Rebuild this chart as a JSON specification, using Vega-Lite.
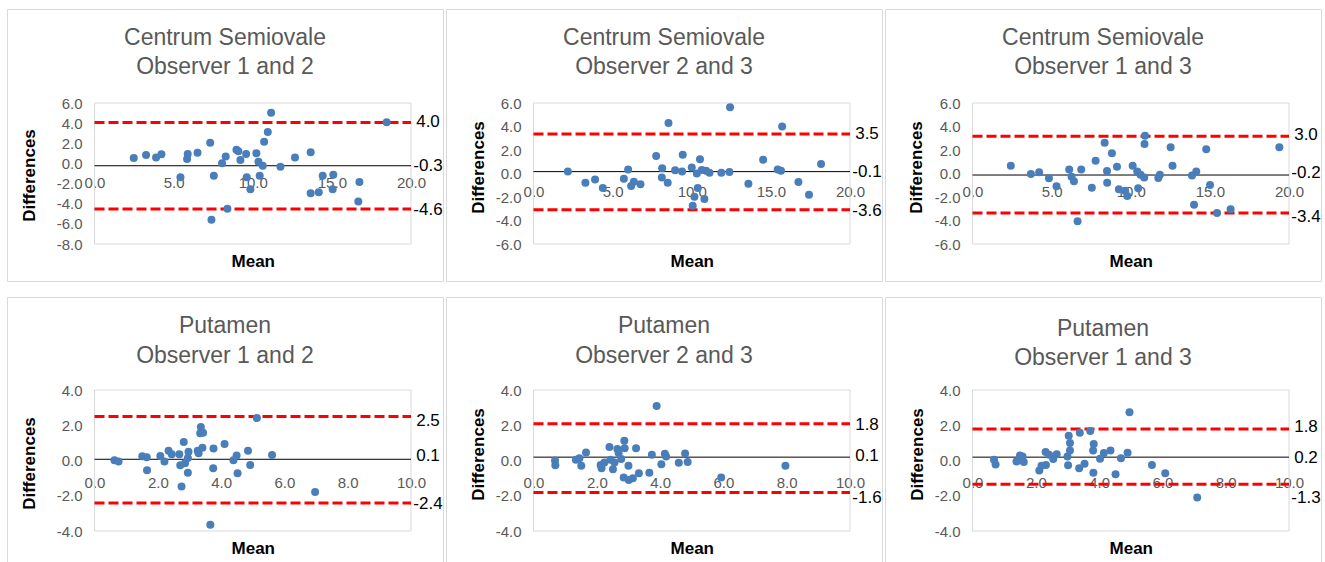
{
  "$schema": "https://vega.github.io/schema/vega-lite/v6.json",
  "background": "white",
  "padding": {"left": 6, "top": 8, "right": 0, "bottom": 0},
  "config": {
    "font": "Liberation Sans",
    "locale": {"number": {"decimal": ".", "thousands": ",", "grouping": [3], "currency": ["$", ""], "minus": "-"}},
    "view": {"stroke": "#d9d9d9", "strokeWidth": 1},
    "title": {"fontSize": 23, "font": "Liberation Sans", "fontWeight": "normal", "color": "#595959", "anchor": "middle", "frame": "group", "lineHeight": 29, "baseline": "middle"},
    "axis": {"domain": false, "ticks": false, "tickSize": 0, "grid": false, "labelColor": "#595959", "labelFontSize": 15, "labelFont": "Liberation Sans", "titleFont": "Liberation Sans", "titleFontSize": 17, "titleFontWeight": "bold", "titleColor": "black", "labelFlush": false, "labelOverlap": false, "labelBound": false, "format": ".1f", "titleBaseline": "middle"},
    "axisY": {"labelOverlap": false},
    "axisX": {"labelOverlap": false}
  },
  "datasets": {
    "pts": [
      {"p":1,"m":2.48,"d":0.54},{"p":1,"m":3.26,"d":0.84},{"p":1,"m":3.89,"d":0.60},{"p":1,"m":4.23,"d":0.90},{"p":1,"m":5.43,"d":-1.38},{"p":1,"m":5.89,"d":0.94},{"p":1,"m":5.85,"d":0.44},{"p":1,"m":6.51,"d":1.07},{"p":1,"m":7.31,"d":2.06},{"p":1,"m":7.54,"d":-1.22},{"p":1,"m":7.39,"d":-5.59},{"p":1,"m":8.06,"d":0.01},{"p":1,"m":8.29,"d":0.70},{"p":1,"m":8.40,"d":-4.49},{"p":1,"m":8.97,"d":1.37},{"p":1,"m":9.09,"d":1.20},{"p":1,"m":9.22,"d":0.34},{"p":1,"m":9.58,"d":0.94},{"p":1,"m":9.62,"d":-1.38},{"p":1,"m":9.85,"d":-2.57},{"p":1,"m":10.23,"d":1.00},{"p":1,"m":10.36,"d":0.17},{"p":1,"m":10.63,"d":-0.22},{"p":1,"m":10.44,"d":-1.22},{"p":1,"m":10.72,"d":2.16},{"p":1,"m":10.95,"d":3.12},{"p":1,"m":11.16,"d":5.04},{"p":1,"m":11.75,"d":-0.32},{"p":1,"m":12.67,"d":0.60},{"p":1,"m":13.66,"d":1.10},{"p":1,"m":13.66,"d":-2.97},{"p":1,"m":14.17,"d":-2.87},{"p":1,"m":14.42,"d":-1.22},{"p":1,"m":15.09,"d":-1.12},{"p":1,"m":15.05,"d":-2.57},{"p":1,"m":16.74,"d":-1.85},{"p":1,"m":16.67,"d":-3.77},{"p":1,"m":18.46,"d":4.08},
      {"p":2,"m":2.17,"d":0.16},{"p":2,"m":3.28,"d":-0.78},{"p":2,"m":3.89,"d":-0.52},{"p":2,"m":4.38,"d":-1.23},{"p":2,"m":5.71,"d":-0.44},{"p":2,"m":5.98,"d":0.33},{"p":2,"m":6.17,"d":-1.06},{"p":2,"m":6.34,"d":-0.70},{"p":2,"m":6.76,"d":-0.92},{"p":2,"m":7.75,"d":1.49},{"p":2,"m":8.13,"d":0.44},{"p":2,"m":8.11,"d":-0.33},{"p":2,"m":8.53,"d":4.30},{"p":2,"m":8.48,"d":-0.78},{"p":2,"m":8.95,"d":0.27},{"p":2,"m":9.39,"d":0.16},{"p":2,"m":9.43,"d":1.60},{"p":2,"m":10.00,"d":0.52},{"p":2,"m":10.06,"d":-2.74},{"p":2,"m":10.17,"d":-1.97},{"p":2,"m":10.32,"d":0.01},{"p":2,"m":10.38,"d":-1.23},{"p":2,"m":10.52,"d":1.21},{"p":2,"m":10.63,"d":0.30},{"p":2,"m":10.80,"d":-2.17},{"p":2,"m":10.90,"d":0.24},{"p":2,"m":11.12,"d":0.07},{"p":2,"m":11.87,"d":0.07},{"p":2,"m":12.38,"d":0.13},{"p":2,"m":12.42,"d":5.63},{"p":2,"m":13.58,"d":-0.87},{"p":2,"m":14.51,"d":1.18},{"p":2,"m":15.43,"d":0.33},{"p":2,"m":15.64,"d":0.24},{"p":2,"m":15.71,"d":4.01},{"p":2,"m":16.74,"d":-0.72},{"p":2,"m":17.41,"d":-1.80},{"p":2,"m":18.17,"d":0.81},
      {"p":3,"m":2.42,"d":0.67},{"p":3,"m":3.69,"d":-0.04},{"p":3,"m":4.21,"d":0.10},{"p":3,"m":4.83,"d":-0.41},{"p":3,"m":5.31,"d":-1.09},{"p":3,"m":6.11,"d":0.35},{"p":3,"m":6.26,"d":-0.27},{"p":3,"m":6.41,"d":-0.67},{"p":3,"m":6.87,"d":0.35},{"p":3,"m":6.64,"d":-4.07},{"p":3,"m":7.54,"d":-1.21},{"p":3,"m":7.78,"d":1.09},{"p":3,"m":8.35,"d":2.62},{"p":3,"m":8.50,"d":0.21},{"p":3,"m":8.51,"d":-0.78},{"p":3,"m":8.81,"d":1.72},{"p":3,"m":9.13,"d":0.58},{"p":3,"m":9.25,"d":-1.35},{"p":3,"m":9.65,"d":-1.46},{"p":3,"m":9.78,"d":-1.91},{"p":3,"m":10.12,"d":0.67},{"p":3,"m":10.41,"d":0.16},{"p":3,"m":10.47,"d":-1.26},{"p":3,"m":10.62,"d":-0.10},{"p":3,"m":10.85,"d":-0.35},{"p":3,"m":10.90,"d":3.22},{"p":3,"m":10.87,"d":2.51},{"p":3,"m":11.74,"d":-0.38},{"p":3,"m":11.84,"d":-0.10},{"p":3,"m":12.52,"d":2.23},{"p":3,"m":12.64,"d":0.67},{"p":3,"m":13.87,"d":-0.18},{"p":3,"m":14.14,"d":0.16},{"p":3,"m":14.00,"d":-2.65},{"p":3,"m":14.77,"d":2.06},{"p":3,"m":15.01,"d":-0.98},{"p":3,"m":15.45,"d":-3.36},{"p":3,"m":16.31,"d":-3.05},{"p":3,"m":19.39,"d":2.23},
      {"p":4,"m":0.63,"d":0.01},{"p":4,"m":0.76,"d":-0.05},{"p":4,"m":1.51,"d":0.24},{"p":4,"m":1.65,"d":0.18},{"p":4,"m":1.66,"d":-0.56},{"p":4,"m":2.08,"d":0.26},{"p":4,"m":2.21,"d":-0.05},{"p":4,"m":2.34,"d":0.56},{"p":4,"m":2.44,"d":0.35},{"p":4,"m":2.68,"d":0.35},{"p":4,"m":2.71,"d":-0.27},{"p":4,"m":2.75,"d":-1.47},{"p":4,"m":2.82,"d":1.05},{"p":4,"m":2.86,"d":-0.16},{"p":4,"m":2.95,"d":0.14},{"p":4,"m":2.97,"d":0.49},{"p":4,"m":2.95,"d":-0.69},{"p":4,"m":3.26,"d":0.56},{"p":4,"m":3.29,"d":0.41},{"p":4,"m":3.36,"d":1.90},{"p":4,"m":3.34,"d":1.54},{"p":4,"m":3.43,"d":1.58},{"p":4,"m":3.41,"d":0.73},{"p":4,"m":3.66,"d":-3.64},{"p":4,"m":3.76,"d":0.68},{"p":4,"m":3.75,"d":-0.44},{"p":4,"m":4.11,"d":0.94},{"p":4,"m":4.39,"d":0.01},{"p":4,"m":4.49,"d":0.29},{"p":4,"m":4.52,"d":-0.73},{"p":4,"m":4.85,"d":0.56},{"p":4,"m":4.92,"d":-0.26},{"p":4,"m":5.13,"d":2.41},{"p":4,"m":5.61,"d":0.31},{"p":4,"m":6.97,"d":-1.79},
      {"p":5,"m":0.68,"d":0.00},{"p":5,"m":0.69,"d":-0.27},{"p":5,"m":1.34,"d":0.04},{"p":5,"m":1.45,"d":0.13},{"p":5,"m":1.51,"d":-0.30},{"p":5,"m":1.66,"d":0.46},{"p":5,"m":2.12,"d":-0.25},{"p":5,"m":2.15,"d":-0.44},{"p":5,"m":2.24,"d":-0.11},{"p":5,"m":2.40,"d":0.76},{"p":5,"m":2.43,"d":0.04},{"p":5,"m":2.51,"d":-0.50},{"p":5,"m":2.56,"d":-0.11},{"p":5,"m":2.65,"d":0.65},{"p":5,"m":2.69,"d":0.42},{"p":5,"m":2.77,"d":0.08},{"p":5,"m":2.87,"d":1.12},{"p":5,"m":2.88,"d":0.70},{"p":5,"m":2.85,"d":-0.97},{"p":5,"m":3.00,"d":-0.30},{"p":5,"m":3.01,"d":-1.10},{"p":5,"m":3.14,"d":-1.01},{"p":5,"m":3.24,"d":0.70},{"p":5,"m":3.33,"d":-0.72},{"p":5,"m":3.66,"d":-0.70},{"p":5,"m":3.74,"d":0.32},{"p":5,"m":3.89,"d":3.09},{"p":5,"m":4.04,"d":-0.21},{"p":5,"m":4.15,"d":0.38},{"p":5,"m":4.19,"d":0.23},{"p":5,"m":4.59,"d":-0.13},{"p":5,"m":4.79,"d":0.40},{"p":5,"m":4.87,"d":-0.08},{"p":5,"m":5.93,"d":-0.97},{"p":5,"m":7.96,"d":-0.30},
      {"p":6,"m":0.68,"d":0.04},{"p":6,"m":0.73,"d":-0.23},{"p":6,"m":1.39,"d":-0.06},{"p":6,"m":1.50,"d":0.29},{"p":6,"m":1.58,"d":0.23},{"p":6,"m":1.62,"d":-0.08},{"p":6,"m":2.11,"d":-0.57},{"p":6,"m":2.18,"d":-0.30},{"p":6,"m":2.31,"d":0.48},{"p":6,"m":2.32,"d":-0.25},{"p":6,"m":2.42,"d":0.32},{"p":6,"m":2.55,"d":0.08},{"p":6,"m":2.66,"d":0.36},{"p":6,"m":3.00,"d":0.23},{"p":6,"m":3.02,"d":-0.27},{"p":6,"m":3.04,"d":1.41},{"p":6,"m":3.08,"d":0.99},{"p":6,"m":3.08,"d":0.57},{"p":6,"m":3.39,"d":1.57},{"p":6,"m":3.37,"d":-0.44},{"p":6,"m":3.54,"d":-0.19},{"p":6,"m":3.72,"d":1.68},{"p":6,"m":3.83,"d":0.93},{"p":6,"m":3.81,"d":0.57},{"p":6,"m":3.82,"d":-0.69},{"p":6,"m":4.03,"d":0.10},{"p":6,"m":4.15,"d":0.42},{"p":6,"m":4.36,"d":0.57},{"p":6,"m":4.52,"d":-0.78},{"p":6,"m":4.69,"d":0.13},{"p":6,"m":4.90,"d":0.44},{"p":6,"m":4.96,"d":2.74},{"p":6,"m":5.67,"d":-0.25},{"p":6,"m":6.09,"d":-0.72},{"p":6,"m":7.10,"d":-2.10}
    ],
    "ref": [
      {"p":1,"kind":"limit","v":4.07,"label":"4.0","ly":4.07},{"p":1,"kind":"mean","v":-0.23,"label":"-0.3","ly":-0.23},{"p":1,"kind":"limit","v":-4.53,"label":"-4.6","ly":-4.63},
      {"p":2,"kind":"limit","v":3.36,"label":"3.5","ly":3.36},{"p":2,"kind":"mean","v":0.16,"label":"-0.1","ly":0.16},{"p":2,"kind":"limit","v":-3.08,"label":"-3.6","ly":-3.22},
      {"p":3,"kind":"limit","v":3.16,"label":"3.0","ly":3.28},{"p":3,"kind":"mean","v":-0.13,"label":"-0.2","ly":0.01},{"p":3,"kind":"limit","v":-3.36,"label":"-3.4","ly":-3.67},
      {"p":4,"kind":"limit","v":2.49,"label":"2.5","ly":2.24},{"p":4,"kind":"mean","v":0.07,"label":"0.1","ly":0.26},{"p":4,"kind":"limit","v":-2.41,"label":"-2.4","ly":-2.49},
      {"p":5,"kind":"limit","v":2.08,"label":"1.8","ly":2.04},{"p":5,"kind":"mean","v":0.19,"label":"0.1","ly":0.23},{"p":5,"kind":"limit","v":-1.81,"label":"-1.6","ly":-2.1},
      {"p":6,"kind":"limit","v":1.79,"label":"1.8","ly":1.9},{"p":6,"kind":"mean","v":0.19,"label":"0.2","ly":0.13},{"p":6,"kind":"limit","v":-1.35,"label":"-1.3","ly":-2.15}
    ]
  },
  "columns": 3,
  "spacing": {"row": 16, "column": 3},
  "bounds": "flush",
  "concat": [
    {
      "width": 436, "height": 272,
      "title": {"text": ["Centrum Semiovale", "Observer 1 and 2"], "offset": -69.5},
      "layer": [
        {"data": {"values": [{}]}, "mark": {"type": "rect", "fill": null, "stroke": "#d9d9d9", "strokeWidth": 1},
         "encoding": {
           "x": {"datum": 0, "type": "quantitative", "scale": {"domain": [0, 20], "range": [87.5, 404], "nice": false, "zero": false},
                 "axis": {"title": "Mean", "values": [0, 5, 10, 15, 20], "labelOverlap": false, "offset": -117.6, "labelPadding": 19, "labelBaseline": "middle", "titleY": 97.6}},
           "x2": {"datum": 20},
           "y": {"datum": -8, "type": "quantitative", "scale": {"domain": [-8, 6], "range": [235, 94], "nice": false, "zero": false},
                 "axis": {"title": "Differences", "values": [-8, -6, -4, -2, 0, 2, 4, 6], "tickCount": 8, "labelOverlap": false, "labelSeparation": -40, "offset": -87.5, "labelPadding": 12.5, "titleX": -65.2, "titleY": 166, "titleAngle": 270}},
           "y2": {"datum": 6}}},
        {"data": {"name": "ref"}, "transform": [{"filter": "datum.p == 1 && datum.kind == 'limit'"}],
         "mark": {"type": "rule", "color": "#ff0000", "strokeWidth": 3, "strokeDash": [10, 4]},
         "encoding": {"y": {"field": "v", "type": "quantitative"}, "x": {"datum": 0}, "x2": {"datum": 20}}},
        {"data": {"name": "ref"}, "transform": [{"filter": "datum.p == 1 && datum.kind == 'mean'"}],
         "mark": {"type": "rule", "color": "black", "strokeWidth": 1},
         "encoding": {"y": {"field": "v", "type": "quantitative"}, "x": {"datum": 0}, "x2": {"datum": 20}}},
        {"data": {"name": "pts"}, "transform": [{"filter": "datum.p == 1"}],
         "mark": {"type": "circle", "size": 64, "color": "#4a7ebb", "opacity": 1},
         "encoding": {"x": {"field": "m", "type": "quantitative"}, "y": {"field": "d", "type": "quantitative"}}},
        {"data": {"name": "ref"}, "transform": [{"filter": "datum.p == 1"}],
         "mark": {"type": "text", "align": "center", "baseline": "middle", "dx": 17, "fontSize": 17, "color": "black", "font": "Liberation Sans"},
         "encoding": {"x": {"datum": 20}, "y": {"field": "ly", "type": "quantitative"}, "text": {"field": "label"}}}
      ]
    },
    {
      "width": 436, "height": 272,
      "title": {"text": ["Centrum Semiovale", "Observer 2 and 3"], "offset": -69.5},
      "layer": [
        {"data": {"values": [{}]}, "mark": {"type": "rect", "fill": null, "stroke": "#d9d9d9", "strokeWidth": 1},
         "encoding": {
           "x": {"datum": 0, "type": "quantitative", "scale": {"domain": [0, 20], "range": [87.5, 404], "nice": false, "zero": false},
                 "axis": {"title": "Mean", "values": [0, 5, 10, 15, 20], "labelOverlap": false, "offset": -107.5, "labelPadding": 18, "labelBaseline": "middle", "titleY": 87.5}},
           "x2": {"datum": 20},
           "y": {"datum": -6, "type": "quantitative", "scale": {"domain": [-6, 6], "range": [235, 94], "nice": false, "zero": false},
                 "axis": {"title": "Differences", "values": [-6, -4, -2, 0, 2, 4, 6], "labelOverlap": false, "offset": -87.5, "labelPadding": 12.5, "titleX": -55.5, "titleY": 158, "titleAngle": 270}},
           "y2": {"datum": 6}}},
        {"data": {"name": "ref"}, "transform": [{"filter": "datum.p == 2 && datum.kind == 'limit'"}],
         "mark": {"type": "rule", "color": "#ff0000", "strokeWidth": 3, "strokeDash": [10, 4]},
         "encoding": {"y": {"field": "v", "type": "quantitative"}, "x": {"datum": 0}, "x2": {"datum": 20}}},
        {"data": {"name": "ref"}, "transform": [{"filter": "datum.p == 2 && datum.kind == 'mean'"}],
         "mark": {"type": "rule", "color": "black", "strokeWidth": 1},
         "encoding": {"y": {"field": "v", "type": "quantitative"}, "x": {"datum": 0}, "x2": {"datum": 20}}},
        {"data": {"name": "pts"}, "transform": [{"filter": "datum.p == 2"}],
         "mark": {"type": "circle", "size": 64, "color": "#4a7ebb", "opacity": 1},
         "encoding": {"x": {"field": "m", "type": "quantitative"}, "y": {"field": "d", "type": "quantitative"}}},
        {"data": {"name": "ref"}, "transform": [{"filter": "datum.p == 2"}],
         "mark": {"type": "text", "align": "center", "baseline": "middle", "dx": 17, "fontSize": 17, "color": "black", "font": "Liberation Sans"},
         "encoding": {"x": {"datum": 20}, "y": {"field": "ly", "type": "quantitative"}, "text": {"field": "label"}}}
      ]
    },
    {
      "width": 436, "height": 272,
      "title": {"text": ["Centrum Semiovale", "Observer 1 and 3"], "offset": -69.5},
      "layer": [
        {"data": {"values": [{}]}, "mark": {"type": "rect", "fill": null, "stroke": "#d9d9d9", "strokeWidth": 1},
         "encoding": {
           "x": {"datum": 0, "type": "quantitative", "scale": {"domain": [0, 20], "range": [87.5, 404], "nice": false, "zero": false},
                 "axis": {"title": "Mean", "values": [0, 5, 10, 15, 20], "labelOverlap": false, "offset": -107.5, "labelPadding": 18, "labelBaseline": "middle", "titleY": 87.5}},
           "x2": {"datum": 20},
           "y": {"datum": -6, "type": "quantitative", "scale": {"domain": [-6, 6], "range": [235, 94], "nice": false, "zero": false},
                 "axis": {"title": "Differences", "values": [-6, -4, -2, 0, 2, 4, 6], "labelOverlap": false, "offset": -87.5, "labelPadding": 12.5, "titleX": -56.5, "titleY": 158, "titleAngle": 270}},
           "y2": {"datum": 6}}},
        {"data": {"name": "ref"}, "transform": [{"filter": "datum.p == 3 && datum.kind == 'limit'"}],
         "mark": {"type": "rule", "color": "#ff0000", "strokeWidth": 3, "strokeDash": [10, 4]},
         "encoding": {"y": {"field": "v", "type": "quantitative"}, "x": {"datum": 0}, "x2": {"datum": 20}}},
        {"data": {"name": "ref"}, "transform": [{"filter": "datum.p == 3 && datum.kind == 'mean'"}],
         "mark": {"type": "rule", "color": "black", "strokeWidth": 1},
         "encoding": {"y": {"field": "v", "type": "quantitative"}, "x": {"datum": 0}, "x2": {"datum": 20}}},
        {"data": {"name": "pts"}, "transform": [{"filter": "datum.p == 3"}],
         "mark": {"type": "circle", "size": 64, "color": "#4a7ebb", "opacity": 1},
         "encoding": {"x": {"field": "m", "type": "quantitative"}, "y": {"field": "d", "type": "quantitative"}}},
        {"data": {"name": "ref"}, "transform": [{"filter": "datum.p == 3"}],
         "mark": {"type": "text", "align": "center", "baseline": "middle", "dx": 17, "fontSize": 17, "color": "black", "font": "Liberation Sans"},
         "encoding": {"x": {"datum": 20}, "y": {"field": "ly", "type": "quantitative"}, "text": {"field": "label"}}}
      ]
    },
    {
      "width": 436, "height": 266,
      "title": {"text": ["Putamen", "Observer 1 and 2"], "offset": -70.7, "lineHeight": 30},
      "layer": [
        {"data": {"values": [{}]}, "mark": {"type": "rect", "fill": null, "stroke": "#d9d9d9", "strokeWidth": 1},
         "encoding": {
           "x": {"datum": 0, "type": "quantitative", "scale": {"domain": [0, 10], "range": [87.5, 404], "nice": false, "zero": false},
                 "axis": {"title": "Mean", "values": [0, 2, 4, 6, 8, 10], "labelOverlap": false, "offset": -102.5, "labelPadding": 21.5, "labelBaseline": "middle", "titleY": 87.5}},
           "x2": {"datum": 10},
           "y": {"datum": -4, "type": "quantitative", "scale": {"domain": [-4, 4], "range": [234, 93], "nice": false, "zero": false},
                 "axis": {"title": "Differences", "values": [-4, -2, 0, 2, 4], "labelOverlap": false, "offset": -87.5, "labelPadding": 12.5, "titleX": -65.2, "titleY": 166, "titleAngle": 270}},
           "y2": {"datum": 4}}},
        {"data": {"name": "ref"}, "transform": [{"filter": "datum.p == 4 && datum.kind == 'limit'"}],
         "mark": {"type": "rule", "color": "#ff0000", "strokeWidth": 3, "strokeDash": [10, 4]},
         "encoding": {"y": {"field": "v", "type": "quantitative"}, "x": {"datum": 0}, "x2": {"datum": 10}}},
        {"data": {"name": "ref"}, "transform": [{"filter": "datum.p == 4 && datum.kind == 'mean'"}],
         "mark": {"type": "rule", "color": "black", "strokeWidth": 1},
         "encoding": {"y": {"field": "v", "type": "quantitative"}, "x": {"datum": 0}, "x2": {"datum": 10}}},
        {"data": {"name": "pts"}, "transform": [{"filter": "datum.p == 4"}],
         "mark": {"type": "circle", "size": 64, "color": "#4a7ebb", "opacity": 1},
         "encoding": {"x": {"field": "m", "type": "quantitative"}, "y": {"field": "d", "type": "quantitative"}}},
        {"data": {"name": "ref"}, "transform": [{"filter": "datum.p == 4"}],
         "mark": {"type": "text", "align": "center", "baseline": "middle", "dx": 17, "fontSize": 17, "color": "black", "font": "Liberation Sans"},
         "encoding": {"x": {"datum": 10}, "y": {"field": "ly", "type": "quantitative"}, "text": {"field": "label"}}}
      ]
    },
    {
      "width": 436, "height": 266,
      "title": {"text": ["Putamen", "Observer 2 and 3"], "offset": -70.7, "lineHeight": 30},
      "layer": [
        {"data": {"values": [{}]}, "mark": {"type": "rect", "fill": null, "stroke": "#d9d9d9", "strokeWidth": 1},
         "encoding": {
           "x": {"datum": 0, "type": "quantitative", "scale": {"domain": [0, 10], "range": [87.5, 404], "nice": false, "zero": false},
                 "axis": {"title": "Mean", "values": [0, 2, 4, 6, 8, 10], "labelOverlap": false, "offset": -102.5, "labelPadding": 21.5, "labelBaseline": "middle", "titleY": 87.5}},
           "x2": {"datum": 10},
           "y": {"datum": -4, "type": "quantitative", "scale": {"domain": [-4, 4], "range": [234, 93], "nice": false, "zero": false},
                 "axis": {"title": "Differences", "values": [-4, -2, 0, 2, 4], "labelOverlap": false, "offset": -87.5, "labelPadding": 12.5, "titleX": -55.5, "titleY": 157, "titleAngle": 270}},
           "y2": {"datum": 4}}},
        {"data": {"name": "ref"}, "transform": [{"filter": "datum.p == 5 && datum.kind == 'limit'"}],
         "mark": {"type": "rule", "color": "#ff0000", "strokeWidth": 3, "strokeDash": [10, 4]},
         "encoding": {"y": {"field": "v", "type": "quantitative"}, "x": {"datum": 0}, "x2": {"datum": 10}}},
        {"data": {"name": "ref"}, "transform": [{"filter": "datum.p == 5 && datum.kind == 'mean'"}],
         "mark": {"type": "rule", "color": "black", "strokeWidth": 1},
         "encoding": {"y": {"field": "v", "type": "quantitative"}, "x": {"datum": 0}, "x2": {"datum": 10}}},
        {"data": {"name": "pts"}, "transform": [{"filter": "datum.p == 5"}],
         "mark": {"type": "circle", "size": 64, "color": "#4a7ebb", "opacity": 1},
         "encoding": {"x": {"field": "m", "type": "quantitative"}, "y": {"field": "d", "type": "quantitative"}}},
        {"data": {"name": "ref"}, "transform": [{"filter": "datum.p == 5"}],
         "mark": {"type": "text", "align": "center", "baseline": "middle", "dx": 17, "fontSize": 17, "color": "black", "font": "Liberation Sans"},
         "encoding": {"x": {"datum": 10}, "y": {"field": "ly", "type": "quantitative"}, "text": {"field": "label"}}}
      ]
    },
    {
      "width": 436, "height": 266,
      "title": {"text": ["Putamen", "Observer 1 and 3"], "offset": -72.5, "lineHeight": 29},
      "layer": [
        {"data": {"values": [{}]}, "mark": {"type": "rect", "fill": null, "stroke": "#d9d9d9", "strokeWidth": 1},
         "encoding": {
           "x": {"datum": 0, "type": "quantitative", "scale": {"domain": [0, 10], "range": [87.5, 404], "nice": false, "zero": false},
                 "axis": {"title": "Mean", "values": [0, 2, 4, 6, 8, 10], "labelOverlap": false, "offset": -102.5, "labelPadding": 22, "labelBaseline": "middle", "titleY": 88.2}},
           "x2": {"datum": 10},
           "y": {"datum": -4, "type": "quantitative", "scale": {"domain": [-4, 4], "range": [234, 93], "nice": false, "zero": false},
                 "axis": {"title": "Differences", "values": [-4, -2, 0, 2, 4], "labelOverlap": false, "offset": -87.5, "labelPadding": 12.5, "titleX": -55.5, "titleY": 157, "titleAngle": 270}},
           "y2": {"datum": 4}}},
        {"data": {"name": "ref"}, "transform": [{"filter": "datum.p == 6 && datum.kind == 'limit'"}],
         "mark": {"type": "rule", "color": "#ff0000", "strokeWidth": 3, "strokeDash": [10, 4]},
         "encoding": {"y": {"field": "v", "type": "quantitative"}, "x": {"datum": 0}, "x2": {"datum": 10}}},
        {"data": {"name": "ref"}, "transform": [{"filter": "datum.p == 6 && datum.kind == 'mean'"}],
         "mark": {"type": "rule", "color": "black", "strokeWidth": 1},
         "encoding": {"y": {"field": "v", "type": "quantitative"}, "x": {"datum": 0}, "x2": {"datum": 10}}},
        {"data": {"name": "pts"}, "transform": [{"filter": "datum.p == 6"}],
         "mark": {"type": "circle", "size": 64, "color": "#4a7ebb", "opacity": 1},
         "encoding": {"x": {"field": "m", "type": "quantitative"}, "y": {"field": "d", "type": "quantitative"}}},
        {"data": {"name": "ref"}, "transform": [{"filter": "datum.p == 6"}],
         "mark": {"type": "text", "align": "center", "baseline": "middle", "dx": 17, "fontSize": 17, "color": "black", "font": "Liberation Sans"},
         "encoding": {"x": {"datum": 10}, "y": {"field": "ly", "type": "quantitative"}, "text": {"field": "label"}}}
      ]
    }
  ]
}
